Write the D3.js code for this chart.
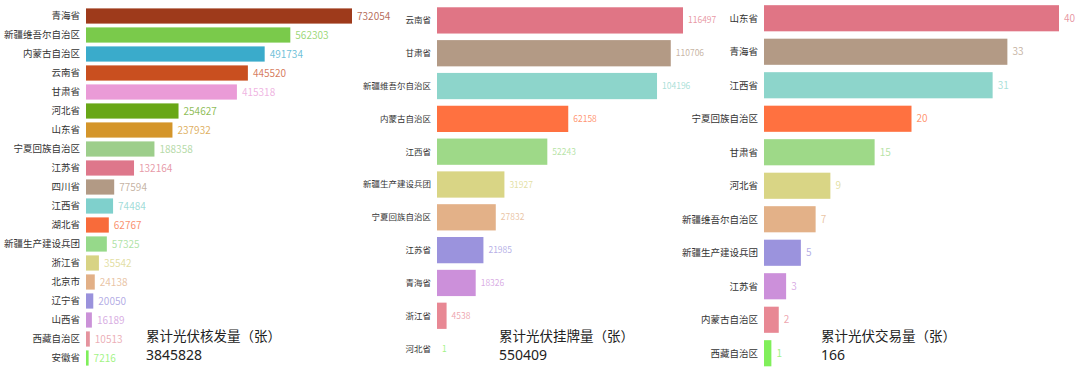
<!DOCTYPE html>
<html>
<head>
<meta charset="utf-8">
<script src="https://cdn.jsdelivr.net/npm/d3@7"></script>
<style>
  body { margin: 0; background: #fff; }
  svg { display: block; font-family: "Noto Sans CJK SC", "Noto Sans", sans-serif; }
</style>
</head>
<body>
<script>
// data
var hefaNames = ["青海省", "新疆维吾尔自治区", "内蒙古自治区", "云南省", "甘肃省", "河北省", "山东省", "宁夏回族自治区", "江苏省", "四川省", "江西省", "湖北省", "新疆生产建设兵团", "浙江省", "北京市", "辽宁省", "山西省", "西藏自治区", "安徽省"];
var hefaValues = [732054, 562303, 491734, 445520, 415318, 254627, 237932, 188358, 132164, 77594, 74484, 62767, 57325, 35542, 24138, 20050, 16189, 10513, 7216];
var hefaColors = ["#9e3a1b", "#7aca4b", "#3aabcb", "#c94f1f", "#ea9bd7", "#68a716", "#d4952a", "#9dce8b", "#de778b", "#b29a85", "#7fd0cc", "#f86b3a", "#96d98a", "#d8d384", "#e2b087", "#9a92dc", "#cb92d8", "#e5939e", "#7fef5a"];

var guapaiNames = ["云南省", "甘肃省", "新疆维吾尔自治区", "内蒙古自治区", "江西省", "新疆生产建设兵团", "宁夏回族自治区", "江苏省", "青海省", "浙江省", "河北省"];
var guapaiValues = [116497, 110706, 104196, 62158, 52243, 31927, 27832, 21985, 18326, 4538, 1];

var jiaoyiNames = ["山东省", "青海省", "江西省", "宁夏回族自治区", "甘肃省", "河北省", "新疆维吾尔自治区", "新疆生产建设兵团", "江苏省", "内蒙古自治区", "西藏自治区"];
var jiaoyiValues = [40, 33, 31, 20, 15, 9, 7, 5, 3, 2, 1];

var palette11 = ["#e07585", "#b39a85", "#8dd5cb", "#ff7140", "#9ed988", "#d9d585", "#e3b188", "#9b93dd", "#cc90da", "#e88894", "#80ef5a"];

var titles = ["累计光伏核发量（张）", "累计光伏挂牌量（张）", "累计光伏交易量（张）"];
var totals = ["3845828", "550409", "166"];

var width = 1080, height = 376;

var svg = d3.select("body").append("svg")
  .attr("width", width)
  .attr("height", height);

//panel layout
var panels = [
  {names: hefaNames, values: hefaValues, colors: hefaColors, x0: 86, w: 266, y: [6.5, 367.5], pad: 0.2, lab: 9.5, val: 10, tx: 146},
  {names: guapaiNames, values: guapaiValues, colors: palette11, x0: 437, w: 246, y: [4, 365], pad: 0.2, lab: 8.5, val: 8.5, tx: 499},
  {names: jiaoyiNames, values: jiaoyiValues, colors: palette11, x0: 764, w: 295, y: [1.5, 370], pad: 0.22, lab: 9.5, val: 10, tx: 821}
];

panels.forEach(function(p, k){
  var x = d3.scaleLinear()
    .domain([0, d3.max(p.values)])
    .range([p.x0, p.x0 + p.w]);
  var y = d3.scaleBand()
    .domain(p.names)
    .range(p.y)
    .paddingInner(p.pad)
    .paddingOuter(p.pad / 2);

  var g = svg.append("g");
  var rows = g.selectAll(".row")
    .data(p.names)
    .enter()
    .append("g")
    .attr("class", "row");

  rows.append("rect")
    .attr("x", x(0))
    .attr("y", function(d){ return y(d); })
    .attr("width", function(d, i){ return Math.max(0, x(p.values[i]) - x(0)); })
    .attr("height", y.bandwidth())
    .style("fill", function(d, i){ return p.colors[i]; });

  rows.append("text")
    .attr("x", x(0) - 6)
    .attr("y", function(d){ return y(d) + y.bandwidth() / 2; })
    .attr("dy", "0.35em")
    .attr("text-anchor", "end")
    .style("font-size", p.lab + "px")
    .style("fill", "#333")
    .text(function(d){ return d; });

  rows.append("text")
    .attr("x", function(d, i){ return x(p.values[i]) + 5; })
    .attr("y", function(d){ return y(d) + y.bandwidth() / 2; })
    .attr("dy", "0.36em")
    .style("font-size", p.val + "px")
    .style("fill", function(d, i){ return p.colors[i]; })
    .style("fill-opacity", 0.75)
    .text(function(d, i){ return p.values[i]; });

  //title and total in lower part of panel
  g.append("text")
    .attr("x", p.tx)
    .attr("y", 341)
    .style("font-size", "13.5px")
    .style("fill", "#222")
    .text(titles[k]);
  g.append("text")
    .attr("x", p.tx)
    .attr("y", 360)
    .style("font-family", "'Noto Sans', sans-serif")
    .style("font-size", "14px")
    .style("fill", "#222")
    .text(totals[k]);
});
</script>
</body>
</html>
